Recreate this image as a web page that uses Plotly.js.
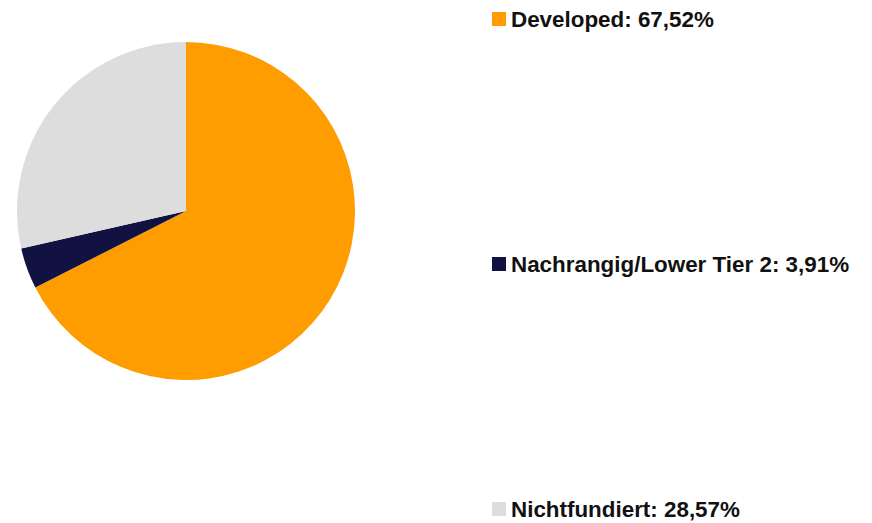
<!DOCTYPE html>
<html>
<head>
<meta charset="utf-8">
<script src="https://cdn.plot.ly/plotly-3.0.1.min.js"></script>
<style>html,body{margin:0;padding:0;background:#fff;}#chart{width:872px;height:523px;}</style>
</head>
<body>
<div id="chart"></div>
<script>
const labels = ["Developed", "Nachrangig/Lower Tier 2", "Nichtfundiert"];
const values = [67.52, 3.91, 28.57];
const colors = ["#FF9C00", "#111142", "#DDDDDD"];

const W = 872, H = 523;
// legend item vertical centres in pixels
const legendY = [19, 264, 509];

const shapes = [];
const annotations = [];
labels.forEach((lab, i) => {
  const yc = legendY[i];
  shapes.push({
    type: "rect", xref: "paper", yref: "paper",
    x0: 492 / W, x1: 506 / W,
    y0: 1 - (yc + 7) / H, y1: 1 - (yc - 7) / H,
    fillcolor: colors[i], line: {width: 0}
  });
  annotations.push({
    xref: "paper", yref: "paper",
    x: 509 / W, y: 1 - yc / H,
    xanchor: "left", yanchor: "middle",
    showarrow: false,
    text: "<b>" + lab + ": " + values[i].toFixed(2).replace(".", ",") + "%</b>",
    font: {family: "Liberation Sans, Arial, sans-serif", size: 22.4, color: "#111111"}
  });
});

const data = [{
  type: "pie",
  labels: labels,
  values: values,
  marker: {colors: colors, line: {width: 0}},
  sort: false,
  direction: "clockwise",
  rotation: 0,
  textinfo: "none",
  hoverinfo: "label+percent",
  showlegend: false,
  domain: {x: [17 / W, 355 / W], y: [1 - 380 / H, 1 - 42 / H]}
}];

const layout = {
  width: W, height: H,
  margin: {l: 0, r: 0, t: 0, b: 0},
  paper_bgcolor: "#ffffff",
  showlegend: false,
  shapes: shapes,
  annotations: annotations
};

Plotly.newPlot("chart", data, layout, {displayModeBar: false, staticPlot: true});
</script>
</body>
</html>
